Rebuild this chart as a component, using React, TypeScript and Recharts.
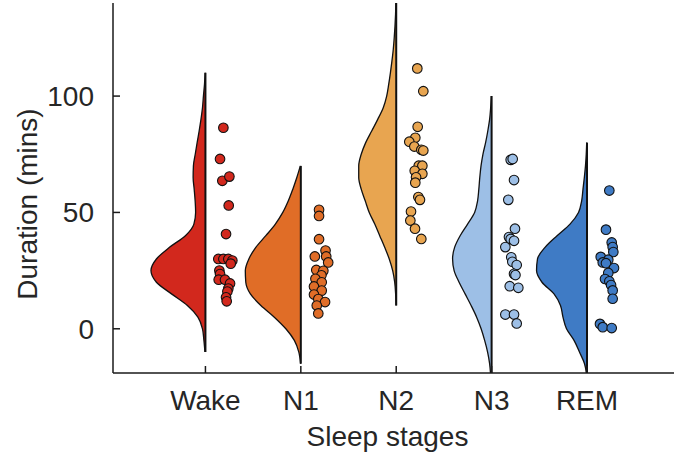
import { Area, ComposedChart, Label, Line, Scatter, XAxis, YAxis } from "recharts";

const STAGES = ["Wake", "N1", "N2", "N3", "REM"];
const COLORS = ["#d2281d", "#e06d27", "#e8a550", "#9dbfe6", "#3f7bc5"];

// duration grid (mins) on which the half-violin widths were read
const VIOLIN_V = [
  140, 135, 130, 125, 120, 115, 110, 105, 100, 95, 90, 85, 80, 75, 70, 65, 60,
  55, 50, 45, 40, 35, 30, 25, 20, 15, 10, 5, 0, -5, -10, -15, -20, -25,
];

// half-violin width in category units at each VIOLIN_V (null = outside the violin)
const WAKE_WIDTH = [
  null, null, null, null, null, null, 0.003, 0.01, 0.021, 0.031, 0.047, 0.066,
  0.087, 0.107, 0.126, 0.129, 0.118, 0.108, 0.103, 0.121, 0.21, 0.377, 0.514,
  0.571, 0.514, 0.356, 0.189, 0.079, 0.031, 0.016, 0.005, null, null, null,
];
const N1_WIDTH = [
  null, null, null, null, null, null, null, null, null, null, null, null, null,
  null, 0.005, 0.042, 0.084, 0.131, 0.189, 0.267, 0.367, 0.472, 0.545, 0.582,
  0.577, 0.529, 0.419, 0.278, 0.157, 0.068, 0.021, 0.003, null, null,
];
const N2_WIDTH = [
  0.003, 0.007, 0.013, 0.021, 0.031, 0.045, 0.061, 0.079, 0.1, 0.136, 0.194,
  0.257, 0.32, 0.367, 0.393, 0.393, 0.367, 0.325, 0.283, 0.225, 0.173, 0.121,
  0.073, 0.037, 0.016, 0.006, 0.002, null, null, null, null, null, null, null,
];
const N3_WIDTH = [
  null, null, null, null, null, null, null, null, 0.003, 0.01, 0.021, 0.04,
  0.063, 0.091, 0.111, 0.124, 0.134, 0.147, 0.178, 0.252, 0.33, 0.388, 0.409,
  0.393, 0.341, 0.278, 0.215, 0.157, 0.11, 0.073, 0.042, 0.021, 0.01, 0.003,
];
const REM_WIDTH = [
  null, null, null, null, null, null, null, null, null, null, null, null,
  0.003, 0.008, 0.016, 0.028, 0.042, 0.056, 0.089, 0.178, 0.314, 0.44, 0.519,
  0.529, 0.472, 0.346, 0.278, 0.252, 0.215, 0.136, 0.079, 0.026, 0.005, 0.001,
];

// individual durations (mins) and their horizontal jitter (category units)
const WAKE_VALUES = [86.4, 73, 63.6, 65.4, 53, 40.7, 30, 30, 30, 29.3, 28, 25, 23.5, 21.1, 21.1, 19.5, 17.3, 16, 13.5, 11.8];
const WAKE_JITTER = [0.188, 0.153, 0.177, 0.251, 0.244, 0.216, 0.135, 0.188, 0.24, 0.282, 0.265, 0.146, 0.153, 0.139, 0.205, 0.258, 0.24, 0.23, 0.216, 0.223];
const N1_VALUES = [51.1, 48.5, 38.5, 33.6, 31.1, 31.1, 28.5, 25.3, 24.9, 23, 21.5, 20, 18.2, 16.4, 14.7, 12.8, 11.5, 10, 6.6];
const N1_JITTER = [0.191, 0.191, 0.191, 0.259, 0.147, 0.266, 0.287, 0.162, 0.236, 0.216, 0.153, 0.219, 0.138, 0.219, 0.138, 0.183, 0.254, 0.167, 0.183];
const N2_VALUES = [111.9, 102.1, 86.8, 82.1, 80.4, 78.3, 76.9, 76.6, 70.1, 70.1, 67.9, 66.6, 65.1, 62.8, 56.6, 55.4, 50.4, 46.5, 43, 38.6];
const N2_JITTER = [0.221, 0.284, 0.225, 0.2, 0.137, 0.19, 0.263, 0.284, 0.236, 0.274, 0.194, 0.274, 0.208, 0.2, 0.232, 0.249, 0.155, 0.148, 0.197, 0.263];
const N3_VALUES = [72.6, 73, 63.9, 55.4, 43, 39.4, 38.6, 37.8, 35.1, 30.7, 28.8, 27.4, 23.6, 23.1, 18.3, 17.6, 6.1, 6.1, 2.3];
const N3_JITTER = [0.2, 0.221, 0.235, 0.175, 0.245, 0.182, 0.2, 0.235, 0.144, 0.206, 0.217, 0.263, 0.235, 0.25, 0.19, 0.28, 0.144, 0.235, 0.263];
const REM_VALUES = [59.4, 42.6, 37.1, 35.1, 33, 30.9, 29.7, 28.5, 28.2, 26.1, 24, 21.4, 20.4, 18.8, 16.5, 12.9, 2.1, 0.7, 0.3];
const REM_JITTER = [0.234, 0.199, 0.259, 0.269, 0.276, 0.144, 0.223, 0.165, 0.199, 0.283, 0.223, 0.189, 0.234, 0.252, 0.269, 0.269, 0.136, 0.165, 0.259];

const Y_TICKS = [0, 50, 100];
const X_TICKS = [1, 2, 3, 4, 5];

const WIDTHS = [WAKE_WIDTH, N1_WIDTH, N2_WIDTH, N3_WIDTH, REM_WIDTH];
const VALUES = [WAKE_VALUES, N1_VALUES, N2_VALUES, N3_VALUES, REM_VALUES];
const JITTERS = [WAKE_JITTER, N1_JITTER, N2_JITTER, N3_JITTER, REM_JITTER];

const violinRows = VIOLIN_V.map((v, r) => {
  const row: Record<string, unknown> = { v };
  WIDTHS.forEach((w, i) => {
    const pos = i + 1;
    const width = w[r];
    row[`edge${i}`] = width == null ? null : pos - width;
    row[`line${i}`] = width == null ? null : pos;
  });
  return row;
});

const pointSets = VALUES.map((vals, i) =>
  vals.map((v, j) => ({ x: i + 1 + JITTERS[i][j], v })),
);

const FONT = "'Liberation Sans', Arial, sans-serif";
const INK = "#262626";
const AXIS = { stroke: "#1a1a1a", strokeWidth: 1.5 };

const dot = (color: string) => (props: any) => (
  <circle
    cx={props.cx}
    cy={props.cy}
    r={4.8}
    fill={color}
    stroke="#111"
    strokeWidth={1.1}
  />
);

export default function App() {
  return (
    <div style={{ position: "absolute", left: 0, top: 0, width: 674, height: 456, background: "#fff" }}>
      <ComposedChart
        width={674}
        height={456}
        layout="vertical"
        data={violinRows}
        margin={{ top: 3, right: 0, bottom: 0, left: 0 }}
      >
        <XAxis
          type="number"
          domain={[0.031, 5.912]}
          allowDataOverflow
          ticks={X_TICKS}
          tickFormatter={(t) => STAGES[t - 1] ?? ""}
          height={83}
          tickSize={-7}
          tickMargin={24}
          axisLine={AXIS}
          tickLine={AXIS}
          tick={{ fill: INK, fontSize: 28, fontFamily: FONT }}
        >
          <Label
            content={({ viewBox }: any) => (
              <text
                x={viewBox.x + 274.5}
                y={viewBox.y + 73}
                textAnchor="middle"
                fill={INK}
                fontSize={28}
                fontFamily={FONT}
              >
                Sleep stages
              </text>
            )}
          />
        </XAxis>
        <YAxis
          type="number"
          dataKey="v"
          domain={[-19, 140]}
          reversed
          allowDataOverflow
          ticks={Y_TICKS}
          width={113}
          tickSize={-7}
          tickMargin={26}
          axisLine={AXIS}
          tickLine={AXIS}
          tick={{ fill: INK, fontSize: 28, fontFamily: FONT }}
        >
          <Label
            content={({ viewBox }: any) => {
              const cx = viewBox.x + 27;
              const cy = viewBox.y + 201;
              return (
                <text
                  x={cx}
                  y={cy}
                  transform={`rotate(-90, ${cx}, ${cy})`}
                  textAnchor="middle"
                  dominantBaseline="central"
                  fill={INK}
                  fontSize={28}
                  fontFamily={FONT}
                >
                  Duration (mins)
                </text>
              );
            }}
          />
        </YAxis>
        {STAGES.map((s, i) => (
          <Area
            key={`a-${s}`}
            dataKey={`edge${i}`}
            baseValue={i + 1}
            type="monotone"
            fill={COLORS[i]}
            fillOpacity={1}
            stroke="#111"
            strokeWidth={1.3}
            dot={false}
            activeDot={false}
            isAnimationActive={false}
          />
        ))}
        {STAGES.map((s, i) => (
          <Line
            key={`l-${s}`}
            dataKey={`line${i}`}
            stroke="#111"
            strokeWidth={2}
            dot={false}
            activeDot={false}
            isAnimationActive={false}
          />
        ))}
        {STAGES.map((s, i) => (
          <Scatter
            key={`p-${s}`}
            data={pointSets[i]}
            dataKey="x"
            shape={dot(COLORS[i])}
            isAnimationActive={false}
          />
        ))}
      </ComposedChart>
    </div>
  );
}
